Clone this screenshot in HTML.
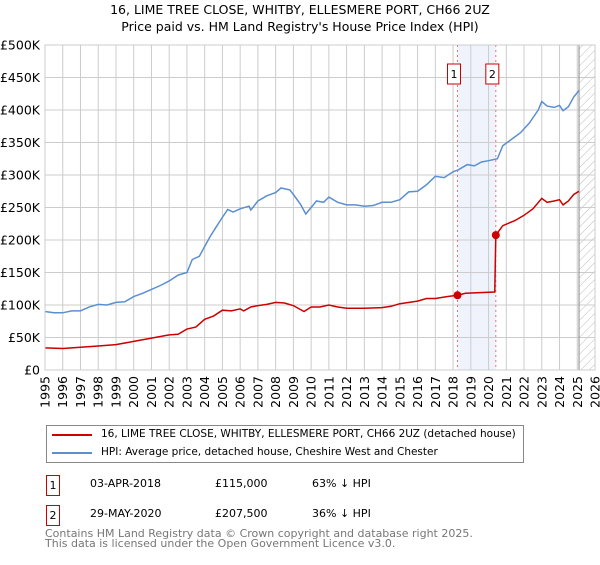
<!DOCTYPE html>
<html><head><meta charset="utf-8"><style>
body{margin:0;background:#fff;font-family:"Liberation Sans","DejaVu Sans",sans-serif;}
</style></head><body>
<svg id="chart" width="600" height="560" xmlns="http://www.w3.org/2000/svg" font-family="DejaVu Sans, Liberation Sans, sans-serif">
<defs><pattern id="hatch" width="6" height="6" patternUnits="userSpaceOnUse" patternTransform="rotate(45)"><line x1="0" y1="0" x2="0" y2="6" stroke="#bbb" stroke-width="1"/></pattern></defs>
<text x="300" y="14" text-anchor="middle" font-size="12.5">16, LIME TREE CLOSE, WHITBY, ELLESMERE PORT, CH66 2UZ</text>
<text x="300" y="31" text-anchor="middle" font-size="12.5">Price paid vs. HM Land Registry's House Price Index (HPI)</text>
<g id="grid"></g><g id="marks"></g>
<rect x="45" y="45" width="550" height="325" fill="none" stroke="#ccc"/>
</svg>
<div style="position:absolute;left:46px;top:425px;width:476px;height:36px;border:1px solid #888;font-family:'DejaVu Sans','Liberation Sans',sans-serif;font-size:10.5px;white-space:nowrap;">
<div style="position:absolute;left:5px;top:8px;width:40px;height:2px;background:#cc0000"></div>
<div style="position:absolute;left:54px;top:2px">16, LIME TREE CLOSE, WHITBY, ELLESMERE PORT, CH66 2UZ (detached house)</div>
<div style="position:absolute;left:5px;top:26px;width:40px;height:2px;background:#5b8fd0"></div>
<div style="position:absolute;left:54px;top:20px">HPI: Average price, detached house, Cheshire West and Chester</div>
</div>
<div style="font-family:'DejaVu Sans','Liberation Sans',sans-serif;font-size:11px;">
<div style="position:absolute;left:46px;top:475px;width:12px;height:19px;border:1px solid #cc0000;text-align:center;line-height:19px">1</div>
<div style="position:absolute;left:90px;top:477px">03-APR-2018</div>
<div style="position:absolute;left:215px;top:477px">£115,000</div>
<div style="position:absolute;left:312px;top:477px">63% ↓ HPI</div>
<div style="position:absolute;left:46px;top:505px;width:12px;height:19px;border:1px solid #cc0000;text-align:center;line-height:19px">2</div>
<div style="position:absolute;left:90px;top:507px">29-MAY-2020</div>
<div style="position:absolute;left:215px;top:507px">£207,500</div>
<div style="position:absolute;left:312px;top:507px">36% ↓ HPI</div>
<div style="position:absolute;left:45px;top:529px;color:#777;line-height:10px">Contains HM Land Registry data © Crown copyright and database right 2025.<br>This data is licensed under the Open Government Licence v3.0.</div>
</div>
<script>
const hpiYears=[1995,1995.5,1996,1996.5,1997,1997.5,1998,1998.5,1999,1999.5,2000,2000.5,2001,2001.5,2002,2002.5,2003,2003.3,2003.7,2004,2004.3,2004.6,2005,2005.3,2005.6,2006,2006.5,2006.6,2007,2007.5,2008,2008.3,2008.8,2009,2009.4,2009.7,2010,2010.3,2010.7,2011,2011.5,2012,2012.5,2013,2013.5,2014,2014.5,2015,2015.5,2016,2016.5,2017,2017.5,2018,2018.3,2018.8,2019.2,2019.6,2020,2020.5,2020.8,2021.3,2021.8,2022.3,2022.8,2023,2023.3,2023.7,2024,2024.2,2024.5,2024.8,2025.1];
const hpiValues=[90,88,88,91,91,97,101,100,104,105,113,118,124,130,137,146,150,170,175,190,205,218,235,247,243,248,252,246,260,268,273,280,277,270,255,240,250,260,258,266,258,254,254,252,253,258,258,262,274,275,285,298,296,305,308,316,314,320,322,325,345,355,365,380,400,413,406,404,407,399,405,420,430];
const priceYears=[1995,1996,1997,1998,1999,2000,2001,2002,2002.5,2003,2003.5,2004,2004.5,2005,2005.5,2006,2006.2,2006.6,2007,2007.5,2008,2008.5,2009,2009.6,2010,2010.5,2011,2011.5,2012,2013,2014,2014.5,2015,2016,2016.5,2017,2017.7,2018.25,2018.7,2019.5,2020.35,2020.41,2020.8,2021.5,2022,2022.5,2023,2023.3,2023.7,2024,2024.2,2024.5,2024.8,2025.1];
const priceValues=[34,33,35,37,39,44,49,54,55,63,66,78,83,92,91,94,91,97,99,101,104,103,99,90,97,97,100,97,95,95,96,98,102,106,110,110,113,115,118,119,120,207.5,222,230,238,248,264,258,260,262,254,260,270,275];
const saleYears=[2018.25,2020.41];
const saleValues=[115,207.5];
const yTicks=[0,50,100,150,200,250,300,350,400,450,500];
const yTickLabels=["£0","£50K","£100K","£150K","£200K","£250K","£300K","£350K","£400K","£450K","£500K"];
const xTicks=[1995,1996,1997,1998,1999,2000,2001,2002,2003,2004,2005,2006,2007,2008,2009,2010,2011,2012,2013,2014,2015,2016,2017,2018,2019,2020,2021,2022,2023,2024,2025,2026];
const NS="http://www.w3.org/2000/svg";
const X=y=>45+(y-1995)*550/31;
const Y=v=>370-v*0.65;
const grid=document.getElementById('grid'),marks=document.getElementById('marks');
function mk(tag,attrs,parent){const e=document.createElementNS(NS,tag);for(const k in attrs)e.setAttribute(k,attrs[k]);parent.appendChild(e);return e;}
let r=mk('rect',{x:X(saleYears[0]),y:45,width:X(saleYears[1])-X(saleYears[0]),height:325,fill:'#eef3fc'},grid);


let h=mk('rect',{x:X(2025.1),y:45,width:595-X(2025.1),height:325,fill:'url(#hatch)'},grid);


yTicks.forEach((v,i)=>{
 let l=mk('line',{x1:45,x2:595,y1:Y(v),y2:Y(v),stroke:'#ccc'},grid);
 
 
 let t=mk('text',{x:40,y:Y(v)+4.5,'text-anchor':'end','font-size':12.5},grid);
 t.textContent=yTickLabels[i];
 
 
});
xTicks.forEach(yr=>{
 let l=mk('line',{x1:X(yr),x2:X(yr),y1:45,y2:370,stroke:'#ccc'},grid);
 
 
 let t=mk('text',{x:0,y:0,'text-anchor':'end','font-size':12.5,transform:`translate(${X(yr)+4.5},376) rotate(-90)`},grid);
 t.textContent=yr;
 
 
});
let vl=mk('line',{x1:X(2025.1),x2:X(2025.1),y1:45,y2:370,stroke:'#888'},grid);


saleYears.forEach((yr,i)=>{
 let l=mk('line',{x1:X(yr),x2:X(yr),y1:45,y2:370,stroke:'#f07070','stroke-dasharray':'2,3'},marks);
 
 
 let b=mk('rect',{x:X(yr)-10,y:64,width:13,height:20,fill:'#fff',stroke:'#cc0000'},marks);
 
 
 let t=mk('text',{x:X(yr)-3.5,y:78,'text-anchor':'middle','font-size':11},marks);
 t.textContent=String(i+1);
 
 
});
let hp=mk('polyline',{points:hpiYears.map((y,i)=>X(y)+','+Y(hpiValues[i])).join(' '),fill:'none',stroke:'#5b8fd0','stroke-width':1.5},marks);


let pp=mk('polyline',{points:priceYears.map((y,i)=>X(y)+','+Y(priceValues[i])).join(' '),fill:'none',stroke:'#cc0000','stroke-width':1.5},marks);


saleYears.forEach((yr,i)=>{
 let c=mk('circle',{cx:X(yr),cy:Y(saleValues[i]),r:4,fill:'#cc0000'},marks);
 
 
});
</script>
</body></html>
